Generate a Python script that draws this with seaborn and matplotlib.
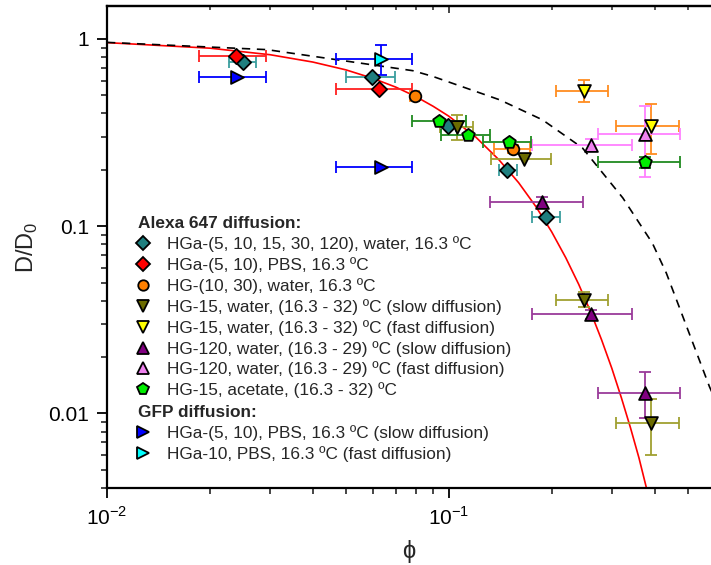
import numpy as np
import matplotlib
matplotlib.use("Agg")
import matplotlib.pyplot as plt
import pandas as pd
import seaborn as sns
from matplotlib.lines import Line2D
from matplotlib.ticker import FixedLocator, FixedFormatter, LogLocator, NullFormatter

# model curves
red_phi = [0.01, 0.02, 0.03, 0.04, 0.05, 0.06, 0.07, 0.08, 0.09, 0.10, 0.12, 0.14,
           0.16, 0.18, 0.20, 0.22, 0.24, 0.26, 0.28, 0.30, 0.32, 0.34, 0.36, 0.38, 0.40]
red_d = [0.956, 0.893, 0.824, 0.753, 0.684, 0.616, 0.553, 0.493, 0.437, 0.387, 0.299, 0.227,
         0.171, 0.127, 0.0933, 0.0678, 0.0489, 0.0349, 0.0247, 0.0174, 0.0121, 0.0084,
         0.0058, 0.0039, 0.0027]
dash_phi = [0.01, 0.0294, 0.0785, 0.0898, 0.141, 0.188, 0.246, 0.323, 0.394, 0.433, 0.579, 0.6]
dash_d = [0.959, 0.877, 0.677, 0.631, 0.473, 0.370, 0.262, 0.1416, 0.0813, 0.0562, 0.0139, 0.012]

nan = np.nan

# Alexa 647
teal_phi = [0.025, 0.0598, 0.0998, 0.1484, 0.1925]
teal_d = [0.753, 0.623, 0.344, 0.200, 0.1125]
teal_xlo = [0.0227, 0.0500, 0.095, 0.140, 0.175]
teal_xhi = [0.0272, 0.0698, 0.105, 0.158, 0.211]
teal_ylo = [nan, nan, nan, nan, nan]
teal_yhi = [nan, nan, nan, nan, nan]

red_phi_pts = [0.0239, 0.0625]
red_d_pts = [0.807, 0.542]
red_xlo = [0.0186, 0.0467]
red_xhi = [0.0292, 0.0783]
red_ylo = [nan, nan]
red_yhi = [nan, nan]

orange_phi = [0.0795, 0.154]
orange_d = [0.493, 0.258]
orange_xlo = [0.077, 0.1352]
orange_xhi = [0.082, 0.1726]
orange_ylo = [0.475, 0.245]
orange_yhi = [0.51, 0.272]

olive_phi = [0.1057, 0.1655, 0.249, 0.391]
olive_d = [0.337, 0.229, 0.0404, 0.00885]
olive_xlo = [0.0940, 0.133, 0.2063, 0.3085]
olive_xhi = [0.1175, 0.199, 0.2913, 0.4715]
olive_ylo = [0.290, nan, 0.0372, 0.00598]
olive_yhi = [0.393, nan, 0.0445, 0.01189]

yellow_phi = [0.249, 0.391]
yellow_d = [0.525, 0.341]
yellow_xlo = [0.2063, 0.3085]
yellow_xhi = [0.292, 0.4715]
yellow_ylo = [0.460, 0.242]
yellow_yhi = [0.606, 0.449]

purple_phi = [0.188, 0.260, 0.374]
purple_d = [0.135, 0.0338, 0.0128]
purple_xlo = [0.1323, 0.1753, 0.273]
purple_xhi = [0.2463, 0.344, 0.476]
purple_ylo = [0.128, 0.032, 0.00941]
purple_yhi = [0.143, 0.0355, 0.0167]

pink_phi = [0.260, 0.374]
pink_d = [0.272, 0.312]
pink_xlo = [0.175, 0.273]
pink_xhi = [0.344, 0.476]
pink_ylo = [0.2515, 0.183]
pink_yhi = [0.293, 0.436]

green_phi = [0.0938, 0.1139, 0.150, 0.374]
green_d = [0.366, 0.308, 0.2834, 0.219]
green_xlo = [0.0783, 0.0952, 0.1259, 0.273]
green_xhi = [0.112, 0.1323, 0.1738, 0.476]
green_ylo = [nan, nan, nan, 0.205]
green_yhi = [nan, nan, nan, 0.235]

# GFP
blue_phi = [0.0240, 0.0633]
blue_d = [0.623, 0.2084]
blue_xlo = [0.0186, 0.0467]
blue_xhi = [0.0292, 0.0783]
blue_ylo = [nan, nan]
blue_yhi = [nan, nan]

cyan_phi = [0.0633]
cyan_d = [0.782]
cyan_xlo = [0.0467]
cyan_xhi = [0.0783]
cyan_ylo = [0.644]
cyan_yhi = [0.932]

alexa_labels = [
    "HGa-(5, 10, 15, 30, 120), water, 16.3 ºC",
    "HGa-(5, 10), PBS, 16.3 ºC",
    "HG-(10, 30), water, 16.3 ºC",
    "HG-15, water, (16.3 - 32) ºC (slow diffusion)",
    "HG-15, water, (16.3 - 32) ºC (fast diffusion)",
    "HG-120, water, (16.3 - 29) ºC (slow diffusion)",
    "HG-120, water, (16.3 - 29) ºC (fast diffusion)",
    "HG-15, acetate, (16.3 - 32) ºC",
]
gfp_labels = [
    "HGa-(5, 10), PBS, 16.3 ºC (slow diffusion)",
    "HGa-10, PBS, 16.3 ºC (fast diffusion)",
]

sns.set_theme(style="ticks")
plt.rcParams["font.family"] = ["Liberation Sans", "DejaVu Sans"]

fig = plt.figure(figsize=(7.11, 5.65), dpi=100)
ax = fig.add_axes([107 / 711, 77 / 565, 604 / 711, 482 / 565])

sns.lineplot(x=red_phi, y=red_d, ax=ax, color="red", linewidth=1.2,
             sort=False, estimator=None, zorder=1)
sns.lineplot(x=dash_phi, y=dash_d, ax=ax, color="black", linewidth=1.2,
             linestyle=(0, (5, 4)), sort=False, estimator=None, zorder=1)


def draw(phi, d, xlo, xhi, ylo, yhi, marker, face, ecol, size, label):
    phi = np.array(phi)
    d = np.array(d)
    xerr = [phi - np.array(xlo), np.array(xhi) - phi]
    yerr = [d - np.array(ylo), np.array(yhi) - d]
    ax.errorbar(phi, d, xerr=xerr, yerr=yerr, fmt="none", ecolor=ecol,
                elinewidth=1.3, capsize=4.5, capthick=1.3, zorder=2)
    df = pd.DataFrame({"phi": phi, "d": d})
    sns.scatterplot(data=df, x="phi", y="d", ax=ax, marker=marker, color=face,
                    s=size, edgecolor="black", linewidth=1.3, zorder=3)
    return Line2D([], [], marker=marker, linestyle="none", markerfacecolor=face,
                  markeredgecolor="black", markeredgewidth=1.3,
                  markersize=np.sqrt(size) * 0.9, label=label)


h_alexa = [
    draw(teal_phi, teal_d, teal_xlo, teal_xhi, teal_ylo, teal_yhi, "D", "#1f7f7f", "#3a9e9e", 60, alexa_labels[0]),
    draw(red_phi_pts, red_d_pts, red_xlo, red_xhi, red_ylo, red_yhi, "D", "#ff0000", "#ff2020", 60, alexa_labels[1]),
    draw(orange_phi, orange_d, orange_xlo, orange_xhi, orange_ylo, orange_yhi, "o", "#ff8000", "#ff8c20", 70, alexa_labels[2]),
    draw(olive_phi, olive_d, olive_xlo, olive_xhi, olive_ylo, olive_yhi, "v", "#6b6b00", "#a0a030", 85, alexa_labels[3]),
    draw(yellow_phi, yellow_d, yellow_xlo, yellow_xhi, yellow_ylo, yellow_yhi, "v", "#ffff00", "#ff8c20", 85, alexa_labels[4]),
    draw(purple_phi, purple_d, purple_xlo, purple_xhi, purple_ylo, purple_yhi, "^", "#800080", "#9a3a9a", 85, alexa_labels[5]),
    draw(pink_phi, pink_d, pink_xlo, pink_xhi, pink_ylo, pink_yhi, "^", "#ee82ee", "#ff80ff", 85, alexa_labels[6]),
    draw(green_phi, green_d, green_xlo, green_xhi, green_ylo, green_yhi, "p", "#00ee00", "#208a20", 90, alexa_labels[7]),
]
h_gfp = [
    draw(blue_phi, blue_d, blue_xlo, blue_xhi, blue_ylo, blue_yhi, ">", "#0000ff", "#0000ff", 85, gfp_labels[0]),
    draw(cyan_phi, cyan_d, cyan_xlo, cyan_xhi, cyan_ylo, cyan_yhi, ">", "#00ffff", "#0000ff", 85, gfp_labels[1]),
]

ax.set_xscale("log")
ax.set_yscale("log")
ax.set_xlim(0.01, 0.585)
ax.set_ylim(0.004, 1.5)

ax.yaxis.set_major_locator(FixedLocator([0.01, 0.1, 1]))
ax.yaxis.set_major_formatter(FixedFormatter(["0.01", "0.1", "1"]))
ax.yaxis.set_minor_locator(LogLocator(base=10, subs=np.arange(2, 10)))
ax.yaxis.set_minor_formatter(NullFormatter())
ax.xaxis.set_major_locator(FixedLocator([0.01, 0.1]))
ax.xaxis.set_major_formatter(FixedFormatter([r"10$^{\mathregular{-2}}$", r"10$^{\mathregular{-1}}$"]))
ax.xaxis.set_minor_locator(LogLocator(base=10, subs=np.arange(2, 10)))
ax.xaxis.set_minor_formatter(NullFormatter())

for s in ["left", "bottom", "top"]:
    ax.spines[s].set_linewidth(1.6)
    ax.spines[s].set_color("black")
ax.spines["right"].set_visible(False)
ax.tick_params(axis="both", which="major", direction="out", length=7, width=1.3,
               labelsize=15, colors="black", pad=6)
ax.tick_params(axis="both", which="minor", direction="out", length=4, width=1.2)

# top ticks point inwards
top = ax.secondary_xaxis("top")
top.xaxis.set_major_locator(FixedLocator([0.01, 0.1]))
top.xaxis.set_minor_locator(LogLocator(base=10, subs=np.arange(2, 10)))
top.xaxis.set_major_formatter(NullFormatter())
top.xaxis.set_minor_formatter(NullFormatter())
top.tick_params(which="major", direction="in", length=5, width=1.2)
top.tick_params(which="minor", direction="in", length=3, width=1.1)
top.spines["top"].set_linewidth(1.6)

ax.set_xlabel("ϕ", fontsize=17, labelpad=8)
ax.set_ylabel("D/D$_{\\mathregular{0}}$", fontsize=17, labelpad=6)

leg_kw = dict(loc="upper left", frameon=False, fontsize=12.4,
              title_fontproperties={"weight": "bold", "size": 12.4},
              alignment="left", handlelength=0.6, handletextpad=1.1,
              labelspacing=0.29, borderpad=0, borderaxespad=0)
leg1 = ax.legend(handles=h_alexa, title="Alexa 647 diffusion:",
                 bbox_to_anchor=(0.051, 0.564), **leg_kw)
ax.add_artist(leg1)
ax.legend(handles=h_gfp, title="GFP diffusion:",
          bbox_to_anchor=(0.051, 0.172), **leg_kw)

fig.savefig("out.png", dpi=100)
